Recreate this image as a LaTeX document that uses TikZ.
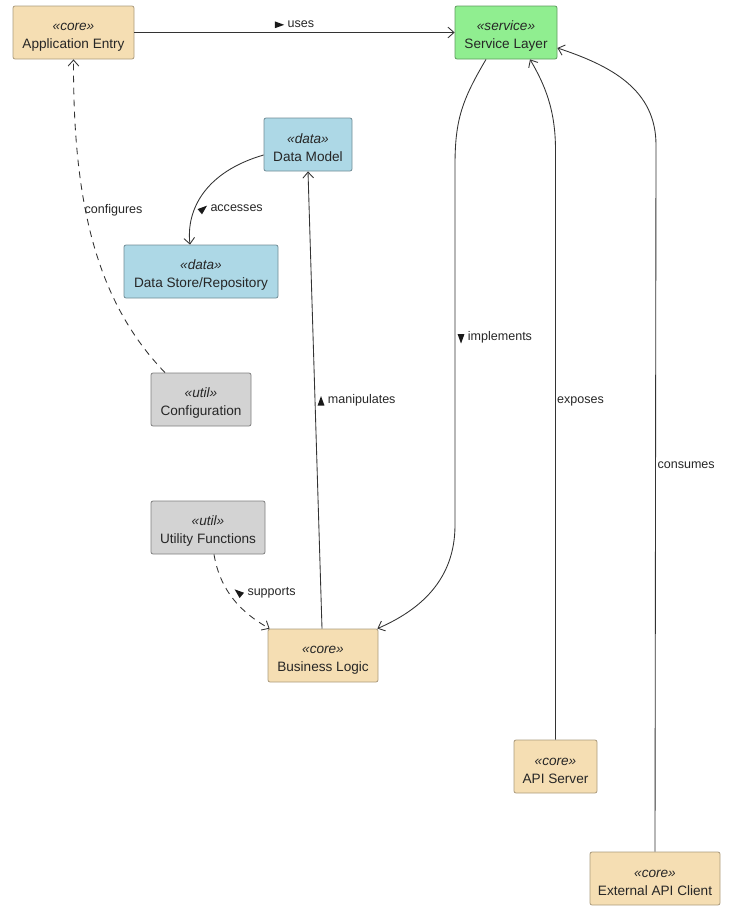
\documentclass[tikz,border=0pt]{standalone}
\usepackage{fontspec}
\usepackage{graphicx}
\setmainfont{Liberation Sans}
\newfontfamily\symfont{DejaVu Sans}
\usetikzlibrary{arrows.meta}
\definecolor{corefill}{HTML}{F5DEB3}
\definecolor{servfill}{HTML}{90EE90}
\definecolor{datafill}{HTML}{ADD8E6}
\definecolor{utilfill}{HTML}{D3D3D3}
\definecolor{edgecol}{HTML}{333333}
\newcommand{\tri}[1]{\tikz[baseline=-0.35ex,x=1pt,y=1pt]\fill[black!90, rotate=#1] (0:4pt) -- (140:4pt) -- (220:4pt) -- cycle;}
\newcommand{\stereo}[2]{{\rule{0pt}{12pt}\itshape «#1»}\\#2}
\tikzset{
  classbox/.style={draw, rounded corners=1.5pt, line width=0.6pt, align=center,
    inner sep=0pt, font=\fontsize{10.2}{13.5}\selectfont, text=black!85},
  corebox/.style={classbox, fill=corefill, draw=corefill!70!black},
  servbox/.style={classbox, fill=servfill, draw=servfill!65!black},
  databox/.style={classbox, fill=datafill, draw=datafill!65!black},
  utilbox/.style={classbox, fill=utilfill, draw=utilfill!60!black},
  rel/.style={draw=edgecol, line width=0.65pt, -{Straight Barb[length=4.5pt,width=8pt]}},
  dep/.style={rel, dash pattern=on 5pt off 4pt},
  lbl/.style={font=\fontsize{9.4}{11}\selectfont, text=black!85, inner sep=1pt},
}
\begin{document}
\begin{tikzpicture}[x=0.75pt,y=-0.75pt]
\useasboundingbox (0,0) rectangle (744,910);
% nodes
\node[corebox, minimum width=121*0.75pt, minimum height=53*0.75pt] (app) at (73.5,32.5) {\stereo{core}{Application Entry}};
\node[servbox, minimum width=102*0.75pt, minimum height=53*0.75pt] (svc) at (506,32.5) {\stereo{service}{Service Layer}};
\node[databox, minimum width=88*0.75pt, minimum height=53*0.75pt] (dm) at (308,144.5) {\stereo{data}{Data Model}};
\node[databox, minimum width=154*0.75pt, minimum height=53*0.75pt] (ds) at (201,271.5) {\stereo{data}{Data Store/Repository}};
\node[utilbox, minimum width=100*0.75pt, minimum height=53*0.75pt] (cfg) at (201,399.5) {\stereo{util}{Configuration}};
\node[utilbox, minimum width=114*0.75pt, minimum height=53*0.75pt] (uf) at (208,527.5) {\stereo{util}{Utility Functions}};
\node[corebox, minimum width=110*0.75pt, minimum height=53*0.75pt] (bl) at (323,655.5) {\stereo{core}{Business Logic}};
\node[corebox, minimum width=83*0.75pt, minimum height=53*0.75pt] (api) at (555.5,766.5) {\stereo{core}{API Server}};
\node[corebox, minimum width=130*0.75pt, minimum height=53*0.75pt] (ext) at (655,878.5) {\stereo{core}{External API Client}};
% anchors for edge ends
\coordinate (cfgT) at ([xshift=-36*0.75pt]cfg.north);
\coordinate (svcB1) at ([xshift=-20*0.75pt]svc.south);
\coordinate (svcB2) at ([xshift=24*0.75pt]svc.south);
\coordinate (svcR) at ([yshift=-15.5*0.75pt]svc.east);
\coordinate (dmL) at ([yshift=-10.5*0.75pt]dm.west);
\coordinate (dsT) at ([xshift=-11*0.75pt]ds.north);
\coordinate (blTR) at ([xshift=-1*0.75pt]bl.north east);
\coordinate (blT) at ([xshift=-1*0.75pt]bl.north);
\coordinate (blTL) at ([xshift=2*0.75pt]bl.north west);
\coordinate (ufB) at ([xshift=6*0.75pt]uf.south);
\coordinate (dmB) at (dm.south);
% edges
\draw[rel] (app.east) -- (svc.west) node[lbl, pos=0.5, above=2pt] {\tri{0} uses};
\draw[dep] (cfgT) .. controls (95,300) and (73,200) .. (app.south);
\node[lbl, anchor=west] (lcfg) at (83,210) {configures};
\draw[rel] (dmL) .. controls (205,172) and (186,210) .. (dsT);
\node[lbl, anchor=west] (lacc) at (196,209.5) {\tri{40} accesses};
\draw[rel] (svcB1) .. controls (462,100) and (455,120) .. (455,165) -- (455,525) .. controls (455,580) and (420,610) .. (blTR);
\node[lbl, anchor=west] (limp) at (456,337.5) {\tri{-90} implements};
\draw[rel] (blT) -- (dmB);
\node[lbl, anchor=west] (lman) at (316,400.5) {\tri{90} manipulates};
\draw[dep] (ufB) .. controls (220,590) and (240,612) .. (blTL);
\node[lbl, anchor=west] (lsup) at (233,592.5) {\tri{140} supports};
\draw[rel] (api.north) -- (555.5,150) .. controls (555.5,110) and (545,85) .. (svcB2);
\node[lbl, anchor=west] (lexp) at (555.5,401) {exposes};
\draw[rel] (ext.north) -- (656,145) .. controls (656,90) and (612,66) .. (svcR);
\node[lbl, anchor=west] (lcon) at (656,465) {consumes};
\end{tikzpicture}
\end{document}
